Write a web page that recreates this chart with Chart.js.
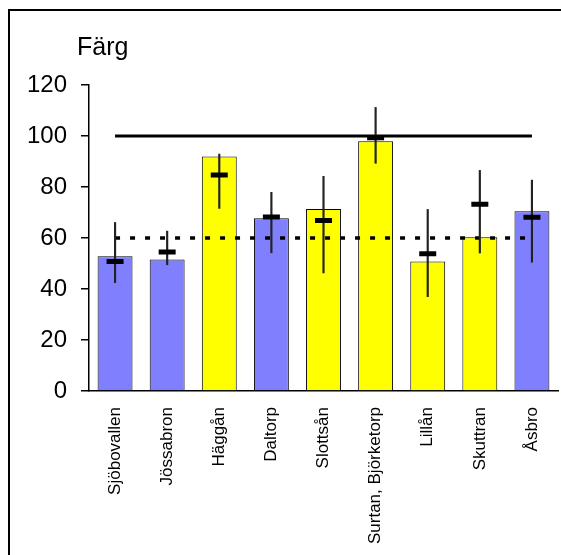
<!DOCTYPE html>
<html>
<head>
<meta charset="utf-8">
<title>Färg</title>
<script src="https://cdn.jsdelivr.net/npm/chart.js@4/dist/chart.umd.min.js"></script>
<style>
    html, body { margin: 0; padding: 0; background: #fff; overflow: hidden; }
    #frame { position: absolute; left: 8px; top: 9px; width: 700px; height: 700px; border: 2px solid #000; }
    #colorChart { position: absolute; left: 0; top: 0; }
</style>
</head>
<body>
<div id="frame"></div>
<canvas id="colorChart" width="561" height="555"></canvas>
<script>
// data
var sites = ['Sjöbovallen', 'Jössabron', 'Häggån', 'Daltorp', 'Slottsån', 'Surtan, Björketorp', 'Lillån', 'Skuttran', 'Åsbro']
var meanValues = [52.8, 51.6, 92.0, 67.7, 71.4, 97.9, 50.8, 60.3, 70.5]
var errLow = [42.5, 49.5, 71.6, 54.2, 46.3, 89.3, 37.0, 54.1, 50.5]
var errHigh = [66.1, 62.7, 92.9, 77.9, 84.2, 111.2, 71.2, 86.5, 82.7]
var markValues = [50.8, 54.5, 84.7, 68.2, 66.9, 99.3, 53.8, 73.2, 68.1]
var upperLimit = [100, 100, 100, 100, 100, 100, 100, 100, 100]
var lowerLimit = [60, 60, 60, 60, 60, 60, 60, 60, 60]
var siteGroup = ['b', 'b', 'y', 'b', 'y', 'y', 'y', 'y', 'b']
var yTicks = [0, 20, 40, 60, 80, 100, 120]

var font = '"Liberation Sans", Arial, sans-serif'
var groupColors = { b: '#8080FF', y: '#FFFF00' }

// title in the top left corner
var titlePlugin = {
    id: 'cornerTitle',
    afterDraw: function (chart) {
        var ctx = chart.ctx
        ctx.save()
        ctx.font = '25px ' + font
        ctx.fillStyle = '#000'
        ctx.textBaseline = 'alphabetic'
        ctx.fillText('Färg', 77, 55)
        ctx.restore()
    }
}

var ctx = document.getElementById('colorChart')
var colorChart = new Chart(ctx, {
    data: {
        labels: sites,
        datasets: [
            {
                type: 'line',
                data: markValues,
                showLine: false,
                pointStyle: 'line',
                pointRadius: 8.5,
                pointBorderWidth: 5,
                pointBorderColor: '#000',
                order: 1
            },
            {
                type: 'bar',
                data: errLow.map(function (v, i) { return [v, errHigh[i]] }),
                backgroundColor: '#222',
                barThickness: 1.5,
                grouped: false,
                order: 2
            },
            {
                type: 'line',
                data: upperLimit,
                borderColor: '#000',
                borderWidth: 3,
                pointRadius: 0,
                order: 3
            },
            {
                type: 'line',
                data: lowerLimit,
                borderColor: '#000',
                borderWidth: 3.5,
                borderDash: [5, 10],
                pointRadius: 0,
                order: 3
            },
            {
                type: 'bar',
                data: meanValues,
                backgroundColor: siteGroup.map(function (g) { return groupColors[g] }),
                borderColor: '#000',
                borderWidth: 1,
                categoryPercentage: 1,
                barPercentage: 0.67,
                grouped: false,
                order: 5
            }
        ]
    },
    options: {
        responsive: false,
        devicePixelRatio: 1,
        animation: false,
        events: [],
        layout: {
            autoPadding: false,
            padding: { top: 85, right: 3, left: 0, bottom: 0 }
        },
        plugins: {
            legend: { display: false },
            tooltip: { enabled: false }
        },
        scales: {
            x: {
                offset: true,
                grid: { display: false, drawTicks: false },
                border: { color: '#000', width: 1.5 },
                ticks: {
                    color: '#000',
                    font: { family: font, size: 17 },
                    minRotation: 90,
                    maxRotation: 90,
                    autoSkip: false,
                    padding: 16
                },
                afterFit: function (scale) {
                    scale.height = 164
                    scale.paddingLeft = 0
                    scale.paddingRight = 0
                }
            },
            y: {
                min: 0,
                max: 120,
                afterBuildTicks: function (scale) {
                    scale.ticks = yTicks.map(function (v) { return { value: v } })
                },
                grid: { drawOnChartArea: false, tickLength: 8, color: '#000', lineWidth: 1.5 },
                border: { color: '#000', width: 1.5 },
                ticks: {
                    color: '#000',
                    font: { family: font, size: 24 },
                    padding: 14
                },
                afterFit: function (scale) {
                    scale.width = 89
                    scale.paddingTop = 0
                    scale.paddingBottom = 0
                }
            }
        }
    },
    plugins: [titlePlugin]
})
</script>
</body>
</html>
